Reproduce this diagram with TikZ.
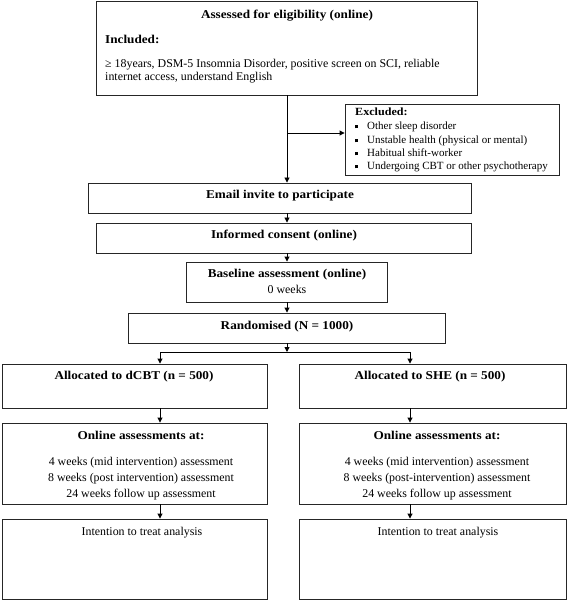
\documentclass[tikz,border=0pt]{standalone}
\usepackage{fontspec}
\setmainfont{Liberation Serif}[BoldFeatures={FakeStretch=1.1}]
\usetikzlibrary{arrows.meta}
\newcommand\flowbox[5]{%
  \node[box, minimum width={#4-#2}, minimum height={#5-#3}] (#1) at ({(#2+#4)/2},{(#3+#5)/2}) {};}
\newcommand\sqbullet{\makebox[12pt][l]{\raisebox{1.5pt}{\rule{3pt}{3pt}}}}
\begin{document}
\begin{tikzpicture}[x=1pt,y=-1pt,
  box/.style={draw=black!85, line width=0.9pt, inner sep=0pt, rectangle},
  arr/.style={draw=black, line width=0.9pt, -{Triangle[length=5pt,width=5pt]}},
  link/.style={draw=black, line width=0.9pt},
  txt/.style={inner sep=0pt, font=\fontsize{11.9}{14}\selectfont},
  btxt/.style={txt, font=\fontsize{12}{14}\selectfont\bfseries},
  stxt/.style={inner sep=0pt, anchor=base west, font=\fontsize{11}{13}\selectfont}]
\useasboundingbox[fill=white] (0,0) rectangle (567,601);
% boxes
\flowbox{top}{96}{1}{477}{95}
\flowbox{excl}{345}{104}{559}{175}
\flowbox{email}{88}{183}{471}{213}
\flowbox{consent}{96}{223}{471}{253}
\flowbox{base}{186}{262}{387}{302}
\flowbox{rand}{128}{313}{445}{343}
\flowbox{allocL}{2}{364}{267}{408}
\flowbox{allocR}{299}{364}{566}{408}
\flowbox{onlineL}{2}{423}{267}{504}
\flowbox{onlineR}{299}{423}{566}{504}
\flowbox{ittL}{2}{519}{267}{599}
\flowbox{ittR}{299}{519}{566}{599}
% texts
\node[btxt, anchor=base] (t0) at (287,19) {Assessed for eligibility (online)};
\node[btxt, anchor=base west] (t1) at (105,44) {Included:};
\node[txt, anchor=base west] (t2) at (105,68) {≥ 18years, DSM-5 Insomnia Disorder, positive screen on SCI, reliable};
\node[txt, anchor=base west] (t3) at (105,81) {internet access, understand English};
\node[stxt, font=\fontsize{11}{13}\selectfont\bfseries] (e0) at (355,116) {Excluded:};
\node[stxt] (e1) at (355,130) {\sqbullet Other sleep disorder};
\node[stxt] (e2) at (355,144) {\sqbullet Unstable health (physical or mental)};
\node[stxt] (e3) at (355,157) {\sqbullet Habitual shift-worker};
\node[stxt] (e4) at (355,170) {\sqbullet Undergoing CBT or other psychotherapy};
\node[btxt, anchor=base] (em) at (280,199) {Email invite to participate};
\node[btxt, anchor=base] (ic) at (284,239) {Informed consent (online)};
\node[btxt, anchor=base] (b0) at (287,277) {Baseline assessment (online)};
\node[txt, anchor=base] (b1) at (287,293) {0 weeks};
\node[btxt, anchor=base] (r0) at (287,329) {Randomised (N = 1000)};
\node[btxt, anchor=base] (aL) at (134,379) {Allocated to dCBT (n = 500)};
\node[btxt, anchor=base] (aR) at (430,379) {Allocated to SHE (n = 500)};
\node[btxt, anchor=base] (oL0) at (141,439) {Online assessments at:};
\node[txt, anchor=base] (oL1) at (141,465) {4 weeks (mid intervention) assessment};
\node[txt, anchor=base] (oL2) at (141,481) {8 weeks (post intervention) assessment};
\node[txt, anchor=base] (oL3) at (141,497) {24 weeks follow up assessment};
\node[btxt, anchor=base] (oR0) at (437,439) {Online assessments at:};
\node[txt, anchor=base] (oR1) at (437,465) {4 weeks (mid intervention) assessment};
\node[txt, anchor=base] (oR2) at (437,481) {8 weeks (post-intervention) assessment};
\node[txt, anchor=base] (oR3) at (437,497) {24 weeks follow up assessment};
\node[txt, anchor=base] (iL) at (142,535) {Intention to treat analysis};
\node[txt, anchor=base] (iR) at (438,535) {Intention to treat analysis};
% connectors
\coordinate (axis) at (287,0);
\coordinate (br) at (287,133);
\coordinate (split) at (287,352);
\coordinate (jl) at (160,352);
\coordinate (jr) at (410,352);
\draw[arr] (top.south -| axis) -- (email.north -| axis);
\draw[arr] (br) -- (br -| excl.west);
\draw[arr] (email.south -| axis) -- (consent.north -| axis);
\draw[arr] (consent.south -| axis) -- (base.north -| axis);
\draw[arr] (base.south -| axis) -- (rand.north -| axis);
\draw[arr] (rand.south -| axis) -- (split);
\draw[link] (jl) -- (jr);
\draw[arr] (jl) -- (jl |- allocL.north);
\draw[arr] (jr) -- (jr |- allocR.north);
\draw[arr] (allocL.south -| jl) -- (onlineL.north -| jl);
\draw[arr] (allocR.south -| jr) -- (onlineR.north -| jr);
\draw[arr] (onlineL.south -| jl) -- (ittL.north -| jl);
\draw[arr] (onlineR.south -| jr) -- (ittR.north -| jr);
\end{tikzpicture}
\end{document}
